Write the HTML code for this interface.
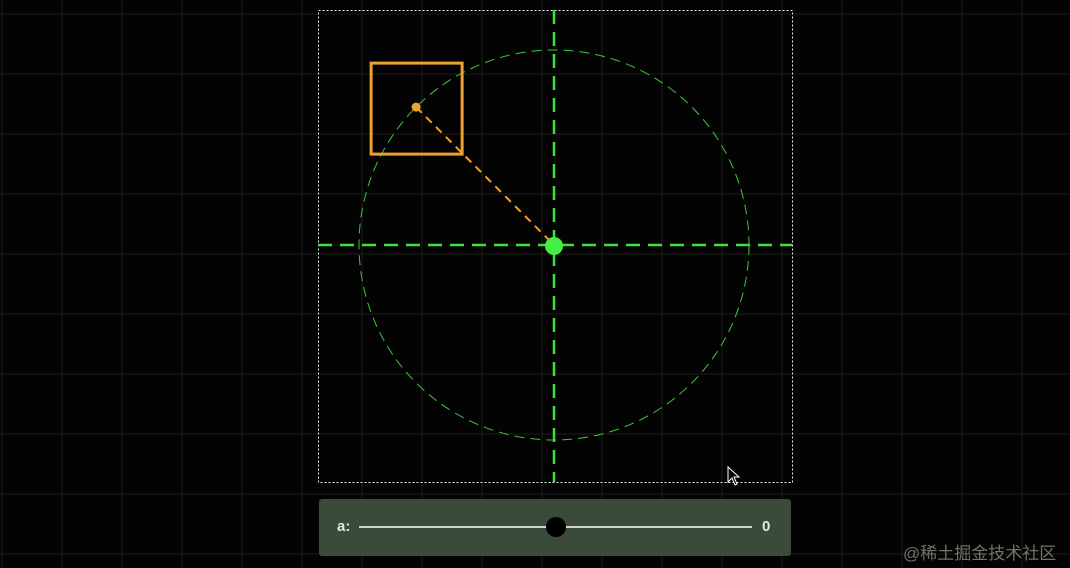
<!DOCTYPE html>
<html><head><meta charset="utf-8">
<style>
html,body{margin:0;padding:0;background:#030303;width:1070px;height:568px;overflow:hidden;font-family:"Liberation Sans","Noto Sans CJK SC",sans-serif;}
#wm{position:absolute;left:903px;top:539px;font-size:17px;color:#6f7466;}
#panel{position:absolute;left:319px;top:499px;width:472px;height:57px;background:#3a4a3b;border-radius:3px;}
#lbl{position:absolute;left:18px;top:19px;color:#e6e6e6;font-weight:bold;font-size:15px;}
#val{position:absolute;left:443px;top:19px;color:#e6e6e6;font-weight:bold;font-size:15px;}
#track{position:absolute;left:40px;top:27px;width:393px;height:2px;background:#cfd3cc;}
#thumb{position:absolute;left:227px;top:18px;width:20px;height:20px;border-radius:50%;background:#000;}
</style></head><body>
<svg id="chart" width="1070" height="568" style="position:absolute;left:0;top:0"></svg>
<div id="panel">
<span id="lbl">a:</span>
<div id="track"></div>
<div id="thumb"></div>
<span id="val">0</span>
</div>
<div id="wm">@稀土掘金技术社区</div>
<script>
const center = [554, 245];
const radius = [195];
const pointAngleDeg = [225];
const sliderValue = [0];

const NS = "http://www.w3.org/2000/svg";
const svg = document.getElementById('chart');
function mk(tag, attrs){const e=document.createElementNS(NS,tag);for(const k in attrs)e.setAttribute(k,attrs[k]);svg.appendChild(e);return e;}

// grid
for(let x=2;x<1070;x+=60){const l=mk('line',{x1:x,y1:0,x2:x,y2:568,stroke:'#1c1c1c','stroke-width':1});

}
for(let y=14;y<568;y+=60){const l=mk('line',{x1:0,y1:y,x2:1070,y2:y,stroke:'#1c1c1c','stroke-width':1});

}

// frame
const fr=mk('rect',{x:318.5,y:10.5,width:474,height:472,fill:'none',stroke:'#e8e8e8','stroke-width':1,'stroke-dasharray':'2 2'});



const cx=center[0], cy=center[1], r=radius[0];
// axes
const ax=mk('line',{x1:318,y1:cy,x2:792,y2:cy,stroke:'#3ee03e','stroke-width':2.5,'stroke-dasharray':'14 8'});


const ay=mk('line',{x1:cx,y1:10,x2:cx,y2:482,stroke:'#3ee03e','stroke-width':2.5,'stroke-dasharray':'14 8'});



// circle
const c=mk('circle',{cx:cx,cy:cy,r:r,fill:'none',stroke:'#3cc83c','stroke-width':1,'stroke-dasharray':'10 6'});



// point
const ang=pointAngleDeg[0]*Math.PI/180;
const px=cx+r*Math.cos(ang), py=cy-r*Math.sin(ang)*-1*-1;
const ppx=cx+r*Math.cos(ang), ppy=cy+r*Math.sin(ang);
const rl=mk('line',{x1:ppx,y1:ppy,x2:cx,y2:cy,stroke:'#f0a030','stroke-width':2,'stroke-dasharray':'8 6'});


const sq=mk('rect',{x:ppx-45,y:ppy-44,width:91,height:91,fill:'none',stroke:'#f0a030','stroke-width':3});


const pt=mk('circle',{cx:ppx,cy:ppy,r:4.5,fill:'#f0a030'});


const cd=mk('circle',{cx:cx,cy:cy+1,r:9,fill:'#44f044'});



// cursor
const cur=mk('path',{d:'M728,467 L728,482 L732,478 L735,485 L737,484 L734,477 L739,477 Z',fill:'#000',stroke:'#fff','stroke-width':1});



document.getElementById('val').textContent=sliderValue[0];
</script>
</body></html>
